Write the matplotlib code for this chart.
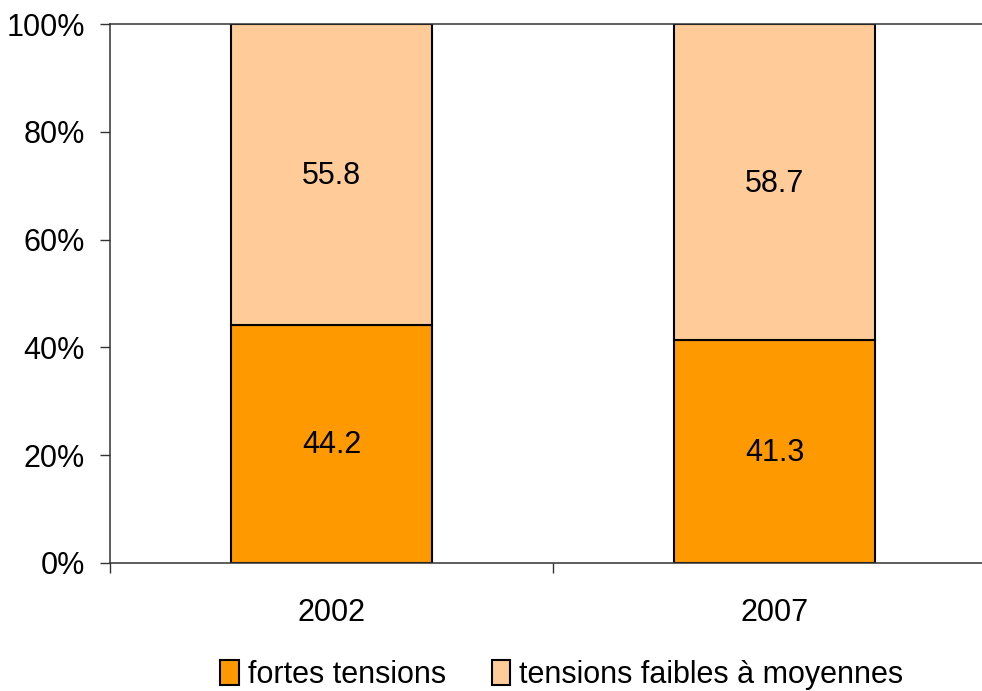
import numpy as np
import matplotlib.pyplot as plt
from matplotlib.patches import Patch

annees = ['2002', '2007']
fortes = [44.2, 41.3]
faibles = [55.8, 58.7]
noms_series = ['fortes tensions', 'tensions faibles à moyennes']
couleurs = ['#FF9900', '#FFCC99']

plt.rcParams['font.family'] = ['Liberation Sans', 'DejaVu Sans']

fig = plt.figure(figsize=(9.82, 6.91), dpi=100)
ax = fig.add_axes([110 / 982, 1 - 563 / 691, 886 / 982, 539 / 691])

x = np.arange(len(annees))
bas = np.array(fortes) / 100
haut = np.array(faibles) / 100
ax.bar(x, bas, width=0.454, color=couleurs[0], edgecolor='black', linewidth=1.5)
ax.bar(x, haut, width=0.454, bottom=bas, color=couleurs[1], edgecolor='black', linewidth=1.5)

# valeurs au centre de chaque segment
for i in range(len(annees)):
    ax.text(x[i], bas[i] / 2 - 0.003, f'{fortes[i]:.1f}', ha='center', va='center', fontsize=22)
    ax.text(x[i], bas[i] + haut[i] / 2 - 0.003, f'{faibles[i]:.1f}', ha='center', va='center', fontsize=22)

ax.set_xlim(-0.5, 1.5)
ax.set_ylim(0, 1)
ax.set_yticks(np.arange(0, 1.01, 0.2))
ax.set_yticklabels([f'{int(round(v * 100))}%' for v in np.arange(0, 1.01, 0.2)], fontsize=22)
ax.tick_params(axis='y', length=7, width=1, pad=11, color='#333333')

ax.set_xticks([-0.5, 0.5, 1.5])
ax.set_xticklabels([])
ax.set_xticks(x, minor=True)
ax.set_xticklabels(annees, minor=True, fontsize=22)
ax.tick_params(axis='x', which='major', length=7, width=1, direction='out', color='#333333')
ax.tick_params(axis='x', which='minor', length=0, pad=25)

for s in ['left', 'bottom', 'top', 'right']:
    ax.spines[s].set_linewidth(1.1)
    ax.spines[s].set_color('#333333')

poignees = [Patch(facecolor=c, edgecolor='black', linewidth=1.5) for c in couleurs]
fig.legend(poignees, noms_series, loc='center', bbox_to_anchor=(562 / 982, 1 - 675 / 691),
           ncol=2, frameon=False, fontsize=22, handlelength=0.6, handleheight=0.85,
           handletextpad=0.3, columnspacing=1.5)

fig.savefig('out.png', dpi=100)
